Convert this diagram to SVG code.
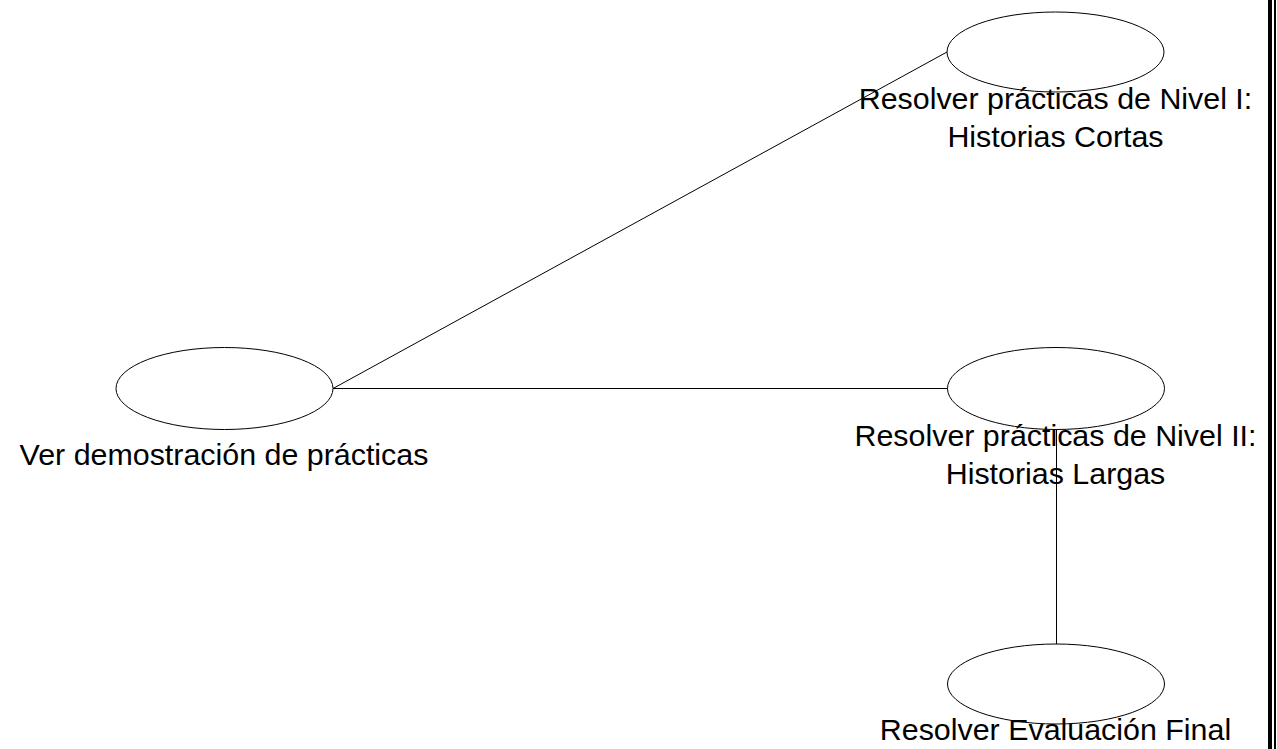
<svg xmlns="http://www.w3.org/2000/svg" width="1277" height="749" viewBox="0 0 1277 749">
  <style>
    .node ellipse { fill: #ffffff; stroke: #000000; stroke-width: 1; }
    .label { font-family: "Liberation Sans", Arial, sans-serif; font-size: 30.4px; fill: #000000; text-anchor: middle; }
    .edge { stroke: #000000; stroke-width: 1; fill: none; }
  </style>
  <rect x="0" y="0" width="1277" height="749" fill="#ffffff"/>

  <!-- page frame on the right side -->
  <g id="frame">
    <rect x="1268" y="0" width="4" height="749" fill="#000000"/>
    <rect x="1274" y="0" width="2" height="749" fill="#000000"/>
  </g>

  <!-- nodes -->
  <g id="node-demo" class="node">
    <ellipse cx="224.5" cy="388.5" rx="108.5" ry="41"/>
  </g>
  <g id="node-nivel1" class="node">
    <ellipse cx="1055.5" cy="52" rx="108.5" ry="40"/>
  </g>
  <g id="node-nivel2" class="node">
    <ellipse cx="1056" cy="388.5" rx="108.5" ry="41"/>
  </g>
  <g id="node-final" class="node">
    <ellipse cx="1056" cy="684" rx="108.5" ry="40"/>
  </g>

  <!-- labels -->
  <g id="labels">
    <text class="label" x="224" y="465">Ver demostración de prácticas</text>
    <text class="label" x="1055.5" y="109">Resolver prácticas de Nivel I:</text>
    <text class="label" x="1055.5" y="146.5">Historias Cortas</text>
    <text class="label" x="1055.5" y="446">Resolver prácticas de Nivel II:</text>
    <text class="label" x="1055.5" y="483.5">Historias Largas</text>
    <text class="label" x="1055.5" y="740">Resolver Evaluación Final</text>
  </g>

  <!-- connectors -->
  <g id="connectors">
    <line class="edge" x1="333" y1="388.5" x2="947" y2="52"/>
    <line class="edge" x1="333" y1="388.5" x2="947.5" y2="388.5"/>
    <line class="edge" x1="1056.5" y1="429.5" x2="1056.5" y2="644"/>
  </g>
</svg>
